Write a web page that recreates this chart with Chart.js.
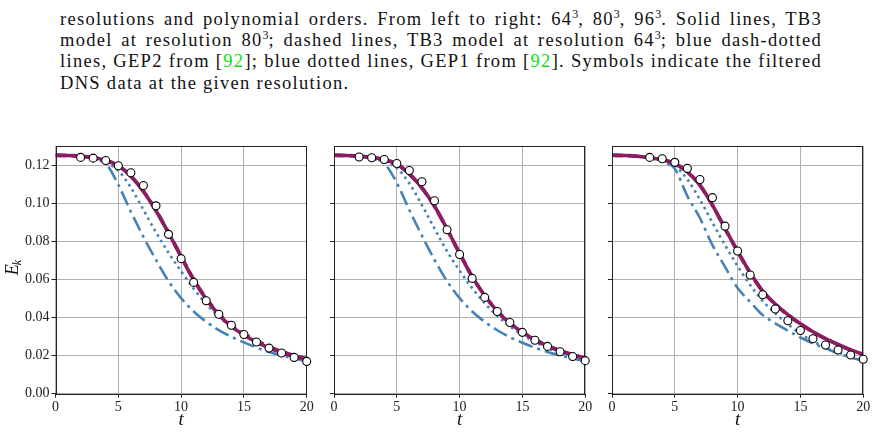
<!DOCTYPE html>
<html>
<head>
<meta charset="utf-8">
<script src="https://cdn.jsdelivr.net/npm/chart.js@4.4.1/dist/chart.umd.min.js"></script>
<style>
  body { margin: 0; background: #fff; width: 876px; height: 434px; overflow: hidden; position: relative; font-family: "Liberation Serif", serif; }
  .cap { position: absolute; left: 60px; width: 762px; font-size: 18.5px; letter-spacing: 1.3px; line-height: 21.1px; color: #111; text-align: justify; text-align-last: justify; }
  .cap.last { text-align-last: left; }
  .cap sup { font-size: 12px; line-height: 0; vertical-align: 7px; letter-spacing: 0; }
  .ref { color: #10e010; }
  canvas { position: absolute; top: 140px; }
</style>
</head>
<body>
<div class="cap" style="top:9.2px">resolutions and polynomial orders. From left to right: 64<sup>3</sup>, 80<sup>3</sup>, 96<sup>3</sup>. Solid lines, TB3</div>
<div class="cap" style="top:30.3px">model at resolution 80<sup>3</sup>; dashed lines, TB3 model at resolution 64<sup>3</sup>; blue dash-dotted</div>
<div class="cap" style="top:51.4px">lines, GEP2 from [<span class="ref">92</span>]; blue dotted lines, GEP1 from [<span class="ref">92</span>]. Symbols indicate the filtered</div>
<div class="cap last" style="top:72.5px">DNS data at the given resolution.</div>

<canvas id="c64" width="320" height="294" style="left:0px;width:320px;height:294px"></canvas>
<canvas id="c80" width="291" height="294" style="left:313.5px;width:291px;height:294px"></canvas>
<canvas id="c96" width="284" height="294" style="left:591.5px;width:284px;height:294px"></canvas>

<script>
// time grid for the model curves
const tGrid = [0, 1, 2, 3, 4, 5, 6, 7, 8, 9, 10, 11, 12, 13, 14, 15, 16, 17, 18, 19, 20];
const xTicks = [0, 5, 10, 15, 20];
const yTicks = [0, 0.02, 0.04, 0.06, 0.08, 0.10, 0.12];

// 64^3
const tDns64 = [2, 3, 4, 5, 6, 7, 8, 9, 10, 11, 12, 13, 14, 15, 16, 17, 18, 19, 20];
const dns64 = [0.1244, 0.1240, 0.1228, 0.1200, 0.1163, 0.1096, 0.0989, 0.0839, 0.0711, 0.0586, 0.0489, 0.0418, 0.0360, 0.0312, 0.0272, 0.0240, 0.0214, 0.0191, 0.0170];
const tb3a64 = [0.1255, 0.1254, 0.1250, 0.1243, 0.1228, 0.1200, 0.1145, 0.1065, 0.0963, 0.0846, 0.0721, 0.0598, 0.0498, 0.0416, 0.0354, 0.0309, 0.0272, 0.0242, 0.0216, 0.0196, 0.0181];
const tb3b64 = [0.1255, 0.1254, 0.1250, 0.1243, 0.1228, 0.1200, 0.1146, 0.1066, 0.0965, 0.0848, 0.0724, 0.0601, 0.0502, 0.0421, 0.0360, 0.0315, 0.0278, 0.0248, 0.0222, 0.0201, 0.0185];
const gep1_64 = [0.1255, 0.1254, 0.1249, 0.1238, 0.1215, 0.1175, 0.1085, 0.0968, 0.0850, 0.0742, 0.0645, 0.0553, 0.0472, 0.0406, 0.0353, 0.0309, 0.0271, 0.0240, 0.0213, 0.0192, 0.0173];
const gep2_64 = [0.1255, 0.1254, 0.1248, 0.1238, 0.1212, 0.1100, 0.0958, 0.0826, 0.0704, 0.0592, 0.0503, 0.0433, 0.0379, 0.0335, 0.0300, 0.0270, 0.0243, 0.0220, 0.0201, 0.0186, 0.0172];

// 80^3
const tDns80 = [2, 3, 4, 5, 6, 7, 8, 9, 10, 11, 12, 13, 14, 15, 16, 17, 18, 19, 20];
const dns80 = [0.1246, 0.1242, 0.1233, 0.1212, 0.1175, 0.1116, 0.1016, 0.0863, 0.0733, 0.0607, 0.0507, 0.0433, 0.0375, 0.0323, 0.0281, 0.0249, 0.0221, 0.0196, 0.0174];
const tb3a80 = [0.1255, 0.1254, 0.1250, 0.1244, 0.1232, 0.1210, 0.1157, 0.1084, 0.0988, 0.0867, 0.0739, 0.0616, 0.0516, 0.0434, 0.0371, 0.0323, 0.0283, 0.0251, 0.0225, 0.0204, 0.0186];
const tb3b80 = [0.1255, 0.1254, 0.1250, 0.1244, 0.1232, 0.1209, 0.1156, 0.1083, 0.0987, 0.0866, 0.0739, 0.0617, 0.0517, 0.0436, 0.0373, 0.0325, 0.0285, 0.0253, 0.0227, 0.0206, 0.0188];
const gep1_80 = [0.1255, 0.1254, 0.1249, 0.1239, 0.1220, 0.1188, 0.1107, 0.0993, 0.0870, 0.0750, 0.0648, 0.0556, 0.0476, 0.0410, 0.0355, 0.0310, 0.0272, 0.0241, 0.0214, 0.0192, 0.0174];
const gep2_80 = [0.1255, 0.1254, 0.1248, 0.1237, 0.1212, 0.1110, 0.0967, 0.0832, 0.0705, 0.0592, 0.0503, 0.0433, 0.0379, 0.0334, 0.0298, 0.0268, 0.0242, 0.0220, 0.0201, 0.0186, 0.0172];

// 96^3
const tDns96 = [3, 4, 5, 6, 7, 8, 9, 10, 11, 12, 13, 14, 15, 16, 17, 18, 19, 20];
const dns96 = [0.1244, 0.1237, 0.1218, 0.1186, 0.1128, 0.1032, 0.0882, 0.0751, 0.0625, 0.0521, 0.0446, 0.0384, 0.0333, 0.0289, 0.0256, 0.0230, 0.0204, 0.0181];
const tb3a96 = [0.1255, 0.1254, 0.1250, 0.1242, 0.1232, 0.1212, 0.1168, 0.1098, 0.0993, 0.0870, 0.0750, 0.0637, 0.0540, 0.0472, 0.0416, 0.0368, 0.0326, 0.0290, 0.0259, 0.0231, 0.0207];
const tb3b96 = [0.1255, 0.1254, 0.1250, 0.1242, 0.1232, 0.1211, 0.1167, 0.1097, 0.0992, 0.0869, 0.0749, 0.0636, 0.0539, 0.0471, 0.0415, 0.0367, 0.0325, 0.0289, 0.0258, 0.0230, 0.0206];
const gep1_96 = [0.1255, 0.1254, 0.1250, 0.1242, 0.1228, 0.1200, 0.1128, 0.1022, 0.0900, 0.0782, 0.0672, 0.0572, 0.0488, 0.0423, 0.0366, 0.0316, 0.0276, 0.0243, 0.0218, 0.0195, 0.0177];
const gep2_96 = [0.1255, 0.1254, 0.1249, 0.1240, 0.1222, 0.1184, 0.1040, 0.0925, 0.0782, 0.0668, 0.0556, 0.0484, 0.0414, 0.0370, 0.0332, 0.0296, 0.0265, 0.0239, 0.0212, 0.0191, 0.0172];

const purple = '#8b1d63';
const blue = '#4682b4';
const serif = '"Liberation Serif", serif';

const pts = (xs, ys) => xs.map((x, i) => ({ x: x, y: ys[i] }));

// box round the axes, drawn under the symbols
const framePlugin = {
  id: 'frame',
  beforeDatasetDraw(chart, args) {
    if (args.index !== 0) return;
    const a = chart.chartArea;
    const ctx = chart.ctx;
    ctx.save();
    ctx.strokeStyle = '#222';
    ctx.lineWidth = 1;
    ctx.strokeRect(Math.round(a.left) + 0.5, Math.round(a.top) + 0.5, Math.round(a.right - a.left) - 1, Math.round(a.bottom - a.top));
    ctx.restore();
  }
};

const ylabelPlugin = {
  id: 'ylabel',
  afterDraw(chart) {
    if (!chart.options.plugins.ylabel.show) return;
    const ctx = chart.ctx;
    ctx.save();
    ctx.translate(18, 127);
    ctx.rotate(-Math.PI / 2);
    ctx.fillStyle = '#111';
    ctx.textBaseline = 'alphabetic';
    ctx.font = 'italic 18px ' + serif;
    const wE = ctx.measureText('E').width;
    ctx.font = 'italic 12px ' + serif;
    const wk = ctx.measureText('k').width;
    const x0 = -(wE + wk) / 2;
    ctx.font = 'italic 18px ' + serif;
    ctx.fillText('E', x0, 0);
    ctx.font = 'italic 12px ' + serif;
    ctx.fillText('k', x0 + wE - 1, 3);
    ctx.restore();
  }
};

function makeChart(id, tDns, dns, tb3a, tb3b, gep1, gep2, yWidth, padRight, showY) {
  return new Chart(document.getElementById(id), {
    type: 'line',
    data: {
      datasets: [
        { data: pts(tDns, dns), showLine: false, pointRadius: 4, pointBackgroundColor: '#fff', pointBorderColor: '#000', pointBorderWidth: 1.1, clip: false, order: 0 },
        { data: pts(tGrid, tb3a), borderColor: purple, borderWidth: 3.6, pointRadius: 0, cubicInterpolationMode: 'monotone', order: 1 },
        { data: pts(tGrid, tb3b), borderColor: purple, borderWidth: 3.6, borderDash: [11, 5], pointRadius: 0, cubicInterpolationMode: 'monotone', order: 2 },
        { data: pts(tGrid, gep1), borderColor: blue, borderWidth: 2.6, borderDash: [2.6, 3.8], pointRadius: 0, cubicInterpolationMode: 'monotone', order: 3 },
        { data: pts(tGrid, gep2), borderColor: blue, borderWidth: 2.6, borderDash: [15, 5, 3, 5], pointRadius: 0, cubicInterpolationMode: 'monotone', order: 4 }
      ]
    },
    options: {
      responsive: false,
      animation: false,
      events: [],
      layout: { padding: { top: 6, right: padRight, left: 0, bottom: 0 } },
      plugins: { legend: { display: false }, tooltip: { enabled: false }, ylabel: { show: showY } },
      scales: {
        x: {
          type: 'linear', min: 0, max: 20,
          afterBuildTicks: s => { s.ticks = xTicks.map(v => ({ value: v })); },
          afterFit: s => { s.height = 40.3; s.paddingLeft = 0; s.paddingRight = 0; },
          ticks: { font: { family: serif, size: 14 }, color: '#222', padding: 1, maxRotation: 0, autoSkip: false },
          grid: { color: '#b0b0b0', lineWidth: 1, tickColor: '#222', tickLength: 4, tickWidth: 1 },
          border: { display: false },
          title: { display: true, text: 't', color: '#111', font: { family: serif, size: 19, style: 'italic' }, padding: { top: 0, bottom: 3 } }
        },
        y: {
          min: 0, max: 0.1304,
          afterBuildTicks: s => { s.ticks = yTicks.map(v => ({ value: v })); },
          afterFit: s => { s.width = yWidth; s.paddingTop = 0; s.paddingBottom = 0; },
          ticks: { font: { family: serif, size: 14 }, color: '#222', padding: 2, callback: v => showY ? v.toFixed(2) : '' },
          grid: { color: '#b0b0b0', lineWidth: 1, tickColor: '#222', tickLength: 4, tickWidth: 1 },
          border: { display: false }
        }
      }
    },
    plugins: [framePlugin, ylabelPlugin]
  });
}

makeChart('c64', tDns64, dns64, tb3a64, tb3b64, gep1_64, gep2_64, 55.5, 13.3, true);
makeChart('c80', tDns80, dns80, tb3a80, tb3b80, gep1_80, gep2_80, 20, 19.8, false);
makeChart('c96', tDns96, dns96, tb3a96, tb3b96, gep1_96, gep2_96, 20, 12.8, false);
</script>
</body>
</html>
